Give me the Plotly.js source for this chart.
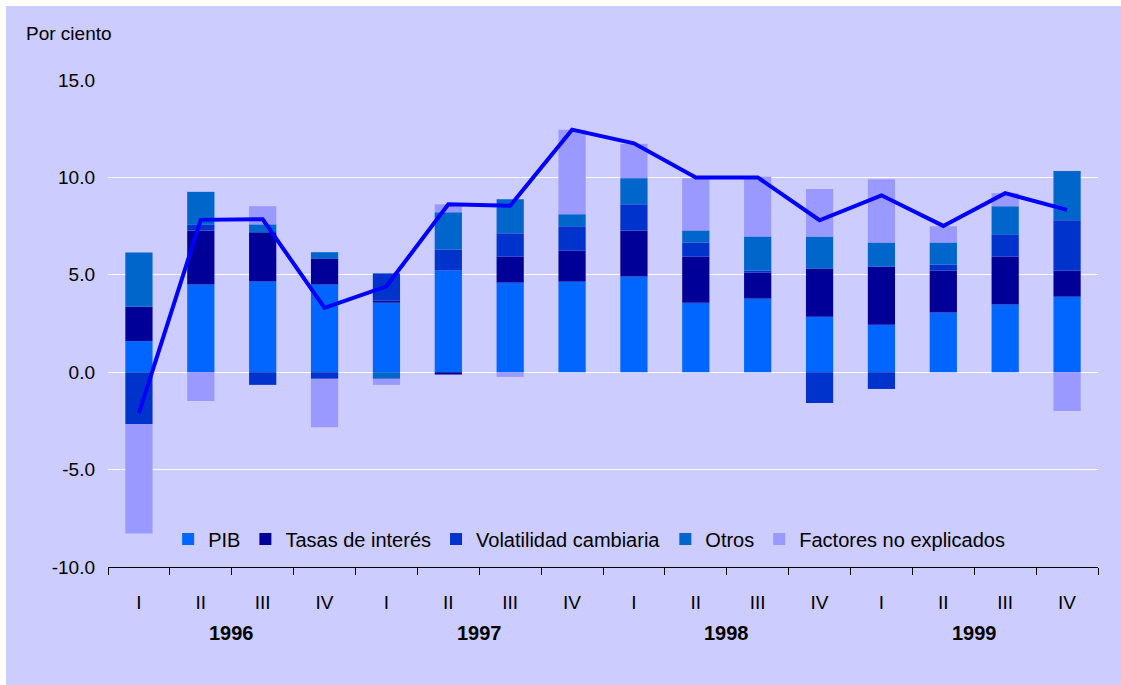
<!DOCTYPE html>
<html>
<head>
<meta charset="utf-8">
<script src="https://cdn.plot.ly/plotly-3.0.1.min.js"></script>
<style>
  html, body { margin: 0; padding: 0; background: #ffffff; }
  #chart { position: absolute; left: 6px; top: 6px; width: 1115px; height: 679px; }
</style>
</head>
<body>
<div id="chart"></div>
<script>
// Categories (year + quarter)
const years = ["1996", "1997", "1998", "1999"];
const quarters = ["I", "II", "III", "IV"];
const categories = [
  "1996-I","1996-II","1996-III","1996-IV",
  "1997-I","1997-II","1997-III","1997-IV",
  "1998-I","1998-II","1998-III","1998-IV",
  "1999-I","1999-II","1999-III","1999-IV"
];
const quarterLabels = [
  "I","II","III","IV","I","II","III","IV",
  "I","II","III","IV","I","II","III","IV"
];

// Series values (per cent)
const pib         = [1.60, 4.50, 4.65, 4.50, 3.57, 5.22, 4.60, 4.65, 4.91, 3.57, 3.78, 2.85, 2.44, 3.06, 3.47, 3.88];
const tasas       = [1.76, 2.78, 2.53, 1.34, 0.10, -0.12, 1.34, 1.60, 2.37, 2.37, 1.34, 2.47, 2.99, 2.16, 2.47, 1.34];
const volatilidad = [-2.66, 0.31, -0.65, -0.34, 1.40, 1.08, 1.19, 1.24, 1.34, 0.72, 0.10, -1.58, -0.86, 0.31, 1.14, 2.58];
const otros       = [2.79, 1.67, 0.41, 0.32, -0.34, 1.91, 1.75, 0.62, 1.34, 0.62, 1.75, 1.65, 1.23, 1.13, 1.44, 2.53];
const factores    = [-5.62, -1.48, 0.93, -2.48, -0.31, 0.41, -0.24, 4.33, 1.76, 2.68, 3.06, 2.43, 3.25, 0.83, 0.67, -1.99];
const total       = [-2.10, 7.82, 7.85, 3.30, 4.41, 8.62, 8.54, 12.45, 11.75, 10.00, 10.00, 7.80, 9.08, 7.51, 9.19, 8.33];

const seriesNames = ["PIB", "Tasas de interés", "Volatilidad cambiaria", "Otros", "Factores no explicados"];
const seriesColors = ["#0066FF", "#000099", "#0033CC", "#0066CC", "#9999FF"];
const seriesData = [pib, tasas, volatilidad, otros, factores];

const font = "Liberation Sans, Arial, sans-serif";

const traces = seriesData.map((vals, i) => ({
  type: "bar",
  name: seriesNames[i],
  x: categories,
  y: vals,
  marker: { color: seriesColors[i], line: { width: 0 } },
  hoverinfo: "x+y+name"
}));

traces.push({
  type: "scatter",
  mode: "lines",
  name: "Total",
  x: categories,
  y: total,
  line: { color: "#0000FF", width: 4 },
  showlegend: false
});

const yearAnnotations = years.map((yr, i) => ({
  x: i * 4 + 1.5,
  xref: "x",
  y: -0.136,
  yref: "paper",
  text: "<b>" + yr + "</b>",
  showarrow: false,
  xanchor: "center",
  yanchor: "middle",
  font: { family: font, size: 20, color: "#000000" }
}));

const layout = {
  width: 1115,
  height: 679,
  paper_bgcolor: "#CCCCFF",
  plot_bgcolor: "#CCCCFF",
  margin: { l: 102, r: 23, t: 74, b: 118 },
  barmode: "relative",
  bargap: 0.56,
  font: { family: font, size: 19, color: "#000000" },
  xaxis: {
    type: "category",
    tickmode: "array",
    tickvals: categories,
    ticktext: quarterLabels,
    tickson: "boundaries",
    ticks: "outside",
    ticklen: 7,
    tickcolor: "#000000",
    tickwidth: 1,
    showline: true,
    linecolor: "#000000",
    linewidth: 1,
    showgrid: false,
    ticklabelstandoff: 18,
    tickfont: { family: font, size: 19, color: "#000000" }
  },
  yaxis: {
    range: [-10, 15],
    tickvals: [-10, -5, 0, 5, 10, 15],
    ticktext: ["-10.0", "-5.0", "0.0", "5.0", "10.0", "15.0"],
    showgrid: true,
    gridcolor: "#FFFFFF",
    gridwidth: 1,
    zeroline: false,
    showline: false,
    ticks: "",
    ticklabelstandoff: 12,
    tickfont: { family: font, size: 19, color: "#000000" }
  },
  legend: {
    orientation: "h",
    x: 0.486,
    xanchor: "center",
    y: 0.0575,
    yanchor: "middle",
    bgcolor: "rgba(0,0,0,0)",
    traceorder: "normal",
    itemclick: false,
    font: { family: font, size: 20, color: "#000000" }
  },
  annotations: [
    {
      x: -0.0848, xref: "paper",
      y: 1.0965, yref: "paper",
      text: "Por ciento",
      showarrow: false,
      xanchor: "left",
      yanchor: "middle",
      font: { family: font, size: 19, color: "#000000" }
    }
  ].concat(yearAnnotations),
  showlegend: true
};

Plotly.newPlot("chart", traces, layout, { displayModeBar: false, staticPlot: true });
</script>
</body>
</html>
